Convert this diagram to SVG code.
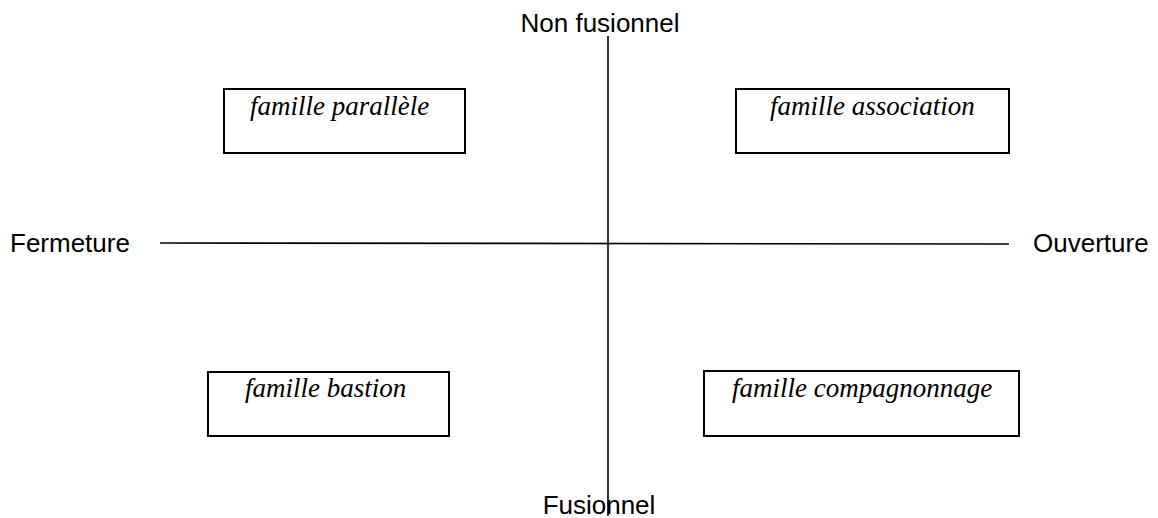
<svg xmlns="http://www.w3.org/2000/svg" width="1158" height="518" viewBox="0 0 1158 518">
<style>
.box{fill:#fff;stroke:#000;stroke-width:2}
.lbl{font-family:"Liberation Serif","Times New Roman",serif;font-style:italic;font-size:27px;fill:#000}
.ax{font-family:"Liberation Sans",Arial,sans-serif;font-size:26px;fill:#000}
.axis{stroke:#000;stroke-width:1.6;fill:none}
</style>
<rect width="1158" height="518" fill="#fff"/>
<g id="connectors">
<line class="axis" x1="608" y1="36" x2="608" y2="516"/>
<line class="axis" x1="160" y1="243" x2="1009" y2="244"/>
</g>
<g id="axis-labels">
<text class="ax" x="600" y="32" text-anchor="middle">Non fusionnel</text>
<text class="ax" x="599" y="514" text-anchor="middle">Fusionnel</text>
<text class="ax" x="10" y="252">Fermeture</text>
<text class="ax" x="1033" y="252">Ouverture</text>
</g>
<g id="node-parallele">
<rect class="box" x="224" y="89" width="241" height="64"/>
<text class="lbl" x="250" y="115">famille parallèle</text>
</g>
<g id="node-association">
<rect class="box" x="736" y="89" width="273" height="64"/>
<text class="lbl" x="770" y="115">famille association</text>
</g>
<g id="node-bastion">
<rect class="box" x="208" y="372" width="241" height="64"/>
<text class="lbl" x="245" y="397">famille bastion</text>
</g>
<g id="node-compagnonnage">
<rect class="box" x="704" y="371" width="315" height="65"/>
<text class="lbl" x="732" y="397">famille compagnonnage</text>
</g>
</svg>
